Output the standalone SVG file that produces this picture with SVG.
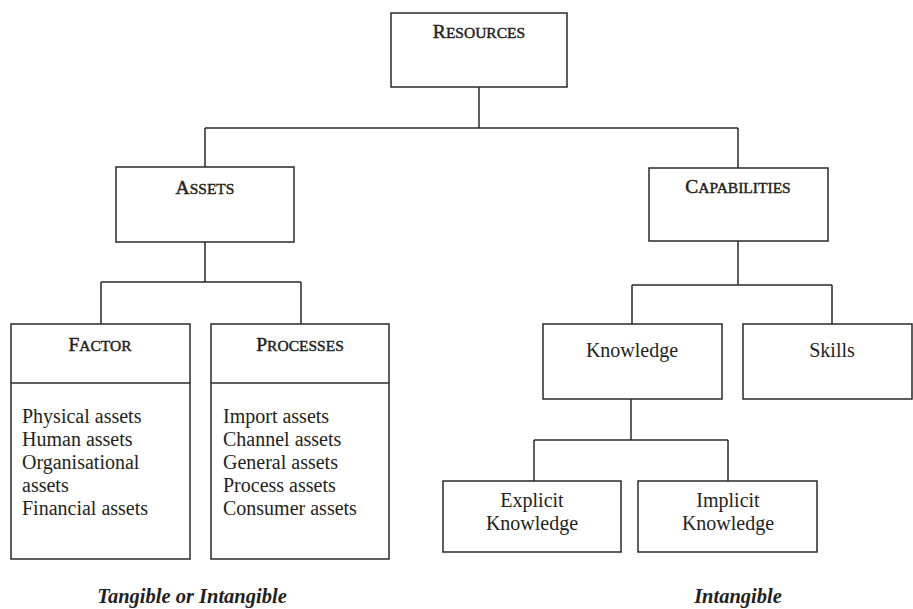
<svg xmlns="http://www.w3.org/2000/svg" width="913" height="609" viewBox="0 0 913 609">
<style>
.box{fill:#fff;stroke:#2a2a2a;stroke-width:1.5}
.ln{fill:none;stroke:#2a2a2a;stroke-width:1.5}
.hd{font-family:"Liberation Serif","Times New Roman",serif;font-size:19.5px;fill:#231f20;stroke:#231f20;stroke-width:0.45;text-anchor:middle}
.sc{font-size:15.5px}
.tx{font-family:"Liberation Serif","Times New Roman",serif;font-size:20px;fill:#231f20}
.c{text-anchor:middle}
.it{font-family:"Liberation Serif","Times New Roman",serif;font-size:20.5px;font-weight:bold;font-style:italic;fill:#231f20;text-anchor:middle}
</style>
<rect width="913" height="609" fill="#fff"/>
<g id="connectors">
<path class="ln" d="M479 87V128M205 128H738M205 128V167M738 128V168"/>
<path class="ln" d="M205 242V282M101 282H301M101 282V324M301 282V324"/>
<path class="ln" d="M738 241V285M632 285H832M632 285V324M832 285V324"/>
<path class="ln" d="M631 399V440M534 440H728M534 440V481M728 440V481"/>
</g>
<g id="resources"><rect class="box" x="391" y="13" width="176" height="74"/><text class="hd" x="479" y="38">R<tspan class="sc">ESOURCES</tspan></text></g>
<g id="assets"><rect class="box" x="116" y="167" width="178" height="75"/><text class="hd" x="205" y="194">A<tspan class="sc">SSETS</tspan></text></g>
<g id="capabilities"><rect class="box" x="649" y="168" width="179" height="73"/><text class="hd" x="738" y="193">C<tspan class="sc">APABILITIES</tspan></text></g>
<g id="factor"><rect class="box" x="11" y="324" width="179" height="235"/><line class="ln" x1="11" y1="383" x2="190" y2="383"/><text class="hd" x="100" y="351">F<tspan class="sc">ACTOR</tspan></text>
<text class="tx" x="22" y="423">Physical assets</text><text class="tx" x="22" y="446">Human assets</text><text class="tx" x="22" y="469">Organisational</text><text class="tx" x="22" y="492">assets</text><text class="tx" x="22" y="515">Financial assets</text></g>
<g id="processes"><rect class="box" x="211" y="324" width="178" height="235"/><line class="ln" x1="211" y1="383" x2="389" y2="383"/><text class="hd" x="300" y="351">P<tspan class="sc">ROCESSES</tspan></text>
<text class="tx" x="223" y="423">Import assets</text><text class="tx" x="223" y="446">Channel assets</text><text class="tx" x="223" y="469">General assets</text><text class="tx" x="223" y="492">Process assets</text><text class="tx" x="223" y="515">Consumer assets</text></g>
<g id="knowledge"><rect class="box" x="543" y="324" width="179" height="75"/><text class="tx c" x="632" y="357">Knowledge</text></g>
<g id="skills"><rect class="box" x="743" y="324" width="169" height="75"/><text class="tx c" x="832" y="357">Skills</text></g>
<g id="explicit"><rect class="box" x="443" y="481" width="178" height="71"/><text class="tx c" x="532" y="507">Explicit</text><text class="tx c" x="532" y="530">Knowledge</text></g>
<g id="implicit"><rect class="box" x="638" y="481" width="179" height="71"/><text class="tx c" x="728" y="507">Implicit</text><text class="tx c" x="728" y="530">Knowledge</text></g>
<g id="labels"><text class="it" x="192" y="603">Tangible or Intangible</text><text class="it" x="738" y="603">Intangible</text></g>
</svg>
